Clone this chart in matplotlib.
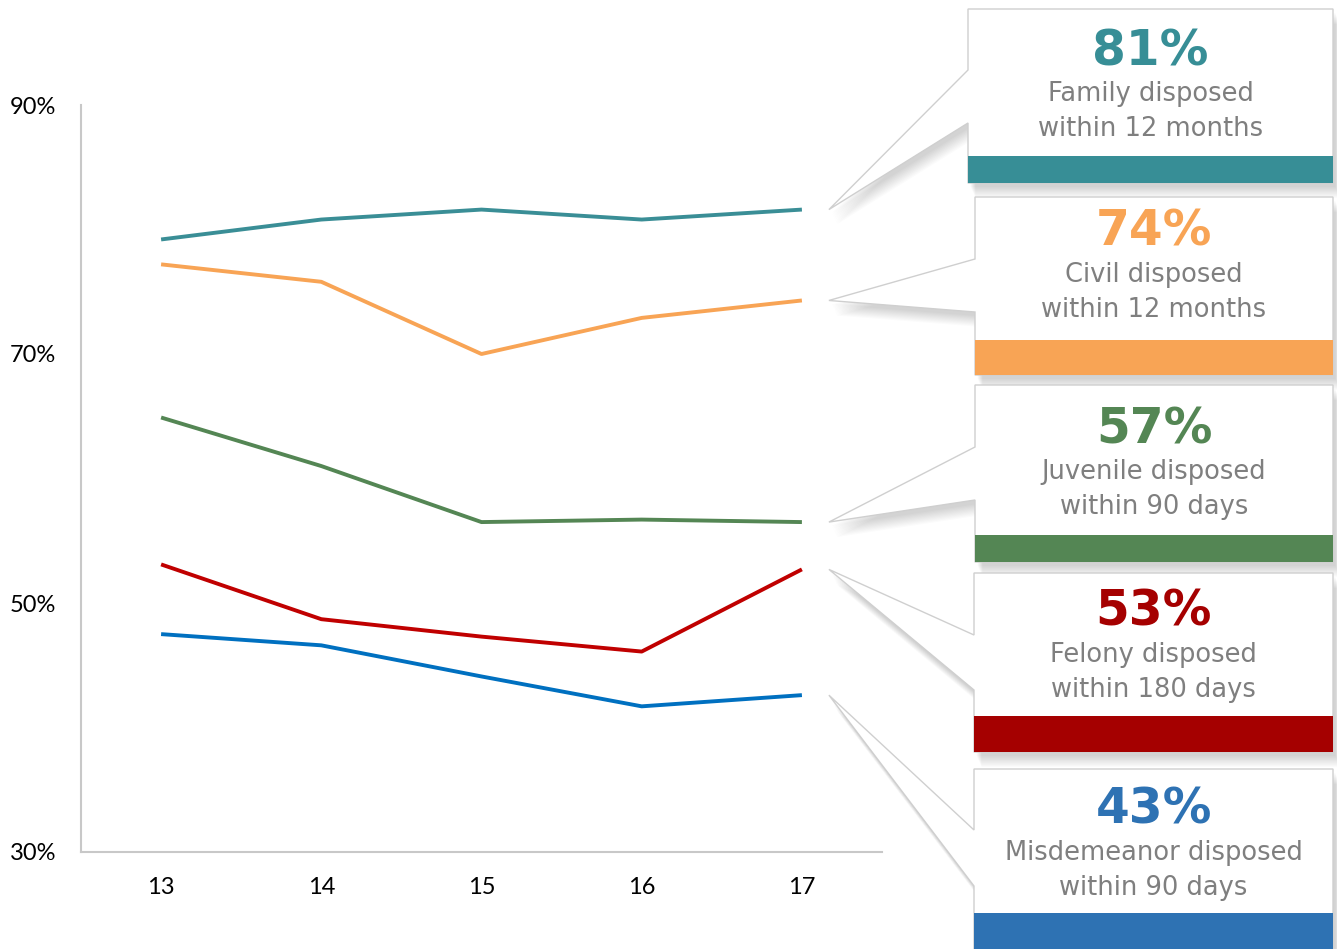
import matplotlib.pyplot as plt
from matplotlib.patches import Polygon, Rectangle

years = [13, 14, 15, 16, 17]
family = [79.2, 80.8, 81.6, 80.8, 81.6]
civil = [77.2, 75.8, 70.0, 72.9, 74.3]
juvenile = [64.9, 61.0, 56.5, 56.7, 56.5]
felony = [53.1, 48.7, 47.3, 46.1, 52.7]
misdemeanor = [47.5, 46.6, 44.1, 41.7, 42.6]

series = [family, civil, juvenile, felony, misdemeanor]
line_colors = ['#3A8E96', '#F8A455', '#548654', '#C00000', '#0070C0']
box_colors = ['#378E96', '#F8A455', '#548654', '#A50000', '#2E72B3']
headlines = ['81%', '74%', '57%', '53%', '43%']
labels = [('Family disposed', 'within 12 months'),
          ('Civil disposed', 'within 12 months'),
          ('Juvenile disposed', 'within 90 days'),
          ('Felony disposed', 'within 180 days'),
          ('Misdemeanor disposed', 'within 90 days')]

W, H = 1337, 949
fig = plt.figure(figsize=(W / 100, H / 100), dpi=100)
ax = fig.add_axes([81 / W, (H - 852) / H, 801 / W, 747 / H])

for vals, c in zip(series, line_colors):
    ax.plot(years, vals, color=c, lw=2.8, solid_capstyle='butt')

ax.set_xlim(12.5, 17.5)
ax.set_ylim(30, 90)
ax.set_xticks(years)
ax.set_xticklabels([str(y) for y in years])
ax.set_yticks([30, 50, 70, 90])
ax.set_yticklabels(['30%', '50%', '70%', '90%'])
ax.tick_params(length=0, colors='black')
ax.tick_params(axis='x', pad=18)
ax.tick_params(axis='y', pad=18)
for lab in ax.get_xticklabels() + ax.get_yticklabels():
    lab.set_fontfamily('Lato')
    lab.set_fontsize(17)
for s in ['top', 'right']:
    ax.spines[s].set_visible(False)
for s in ['left', 'bottom']:
    ax.spines[s].set_color('#C8C8C8')
    ax.spines[s].set_linewidth(1.5)


def px(x, y):
    return (x / W, 1 - y / H)


# callout boxes: left, top, bottom, bar top, pointer top, pointer bottom, text shift (pixels)
boxes = [(968, 9, 183, 156, 70, 123, 0),
         (975, 197, 375, 340, 259, 312, -7),
         (975, 385, 562, 535, 447, 500, 2),
         (974, 573, 752, 716, 635, 690, -3),
         (974, 769, 949, 913, 830, 886, -1)]
right = 1333

fig.canvas.draw()
for i, (l, t, b, bt, pt, pb, dy) in enumerate(boxes):
    # pointer tip at the end of the line
    tx, ty = ax.transData.transform((years[-1], series[i][-1]))
    tip = (tx + 27, H - ty)
    pts = [(l, t), (right, t), (right, b), (l, b), (l, pb), tip, (l, pt)]
    # soft shadow
    for k in range(1, 12):
        sh = [px(x + 2 + k * 0.5, y + 3 + k * 1.1) for x, y in pts]
        fig.add_artist(Polygon(sh, closed=True, transform=fig.transFigure,
                               fc='black', ec='none', alpha=0.014, zorder=1))
    fig.add_artist(Polygon([px(x, y) for x, y in pts], closed=True,
                           transform=fig.transFigure, fc='white',
                           ec='#CFCFCF', lw=1.0, zorder=2))
    fig.add_artist(Rectangle(px(l, b), (right - l) / W, (b - bt) / H,
                             transform=fig.transFigure, fc=box_colors[i],
                             ec='none', zorder=3))
    cx = (l + right) / 2
    fig.text(*px(cx, t + 42 + dy), headlines[i], ha='center', va='center',
             fontsize=35, fontweight='bold', color=box_colors[i], zorder=4)
    fig.text(*px(cx, t + 85 + dy), labels[i][0], ha='center', va='center',
             fontsize=18.5, color='#7F7F7F', zorder=4)
    fig.text(*px(cx, t + 120 + dy), labels[i][1], ha='center', va='center',
             fontsize=18.5, color='#7F7F7F', zorder=4)

fig.savefig('out.png', dpi=100)
